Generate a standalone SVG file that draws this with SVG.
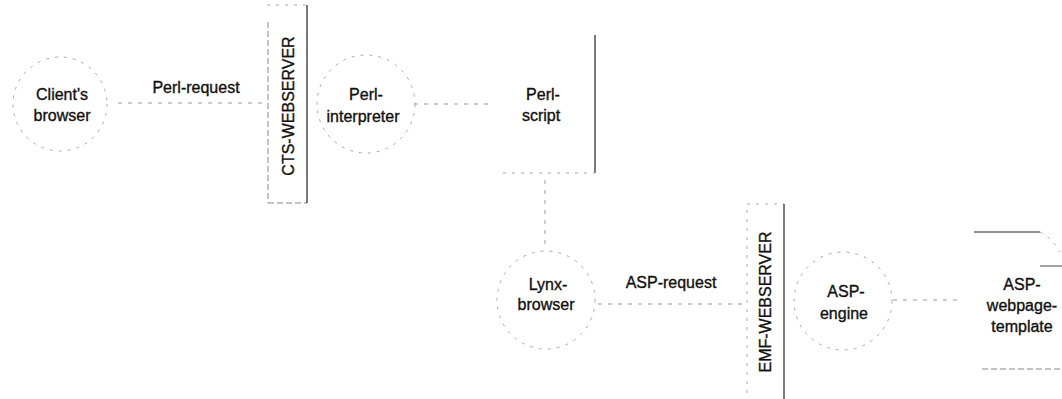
<svg xmlns="http://www.w3.org/2000/svg" width="1062" height="399" viewBox="0 0 1062 399">
  <style>
    .bg { fill: #ffffff; }
    .lbl { font-family: "Liberation Sans", Arial, sans-serif; font-size: 16px; fill: #111111; stroke: #111111; stroke-width: 0.35; text-anchor: middle; }
    .circ { fill: none; stroke: #aaaaaa; stroke-width: 1; stroke-dasharray: 3 6; }
    .conn { fill: none; stroke: #999999; stroke-width: 1; stroke-dasharray: 4 6; }
    .srv { fill: none; stroke: #888888; stroke-width: 1; stroke-dasharray: 6 3; }
    .solid { fill: none; stroke: #222222; stroke-width: 1.2; }
    .faint { fill: none; stroke: #aaaaaa; stroke-width: 1; stroke-dasharray: 3 6; }
  </style>
  <rect class="bg" x="0" y="0" width="1062" height="399"/>

  <g id="connectors">
    <line class="conn" x1="118" y1="103" x2="262" y2="103"/>
    <line class="conn" x1="414" y1="104" x2="490" y2="104"/>
    <line class="conn" x1="545" y1="180" x2="545" y2="250"/>
    <line class="conn" x1="598" y1="304" x2="744" y2="304"/>
    <line class="conn" x1="893" y1="300" x2="958" y2="300"/>
  </g>
  <text class="lbl" x="196" y="93">Perl-request</text>
  <text class="lbl" x="671" y="288">ASP-request</text>

  <g id="client-browser">
    <circle class="circ" cx="60" cy="104" r="47"/>
    <text class="lbl" x="62" y="100">Client's</text>
    <text class="lbl" x="62" y="121">browser</text>
  </g>

  <g id="cts-webserver">
    <line class="faint" x1="267" y1="5" x2="307" y2="5"/>
    <line class="srv" x1="268" y1="22" x2="268" y2="203"/>
    <line class="srv" x1="268" y1="203" x2="307" y2="203"/>
    <line class="solid" x1="307" y1="5" x2="307" y2="203"/>
    <text class="lbl" transform="translate(294,106) rotate(-90)">CTS-WEBSERVER</text>
  </g>

  <g id="perl-interpreter">
    <circle class="circ" cx="366" cy="104" r="49"/>
    <text class="lbl" x="366" y="100">Perl-</text>
    <text class="lbl" x="363" y="122">interpreter</text>
  </g>

  <g id="perl-script">
    <line class="solid" x1="595" y1="35" x2="595" y2="173"/>
    <line class="faint" x1="503" y1="173" x2="595" y2="173"/>
    <text class="lbl" x="543" y="100">Perl-</text>
    <text class="lbl" x="541" y="121">script</text>
  </g>

  <g id="lynx-browser">
    <circle class="circ" cx="546" cy="300" r="49"/>
    <text class="lbl" x="548" y="290">Lynx-</text>
    <text class="lbl" x="546" y="310">browser</text>
  </g>

  <g id="emf-webserver">
    <line class="faint" x1="747" y1="204" x2="784" y2="204"/>
    <line class="faint" x1="747" y1="210" x2="747" y2="399"/>
    <line class="solid" x1="784" y1="204" x2="784" y2="399"/>
    <text class="lbl" transform="translate(771,302) rotate(-90)">EMF-WEBSERVER</text>
  </g>

  <g id="asp-engine">
    <circle class="circ" cx="843" cy="301" r="49"/>
    <text class="lbl" x="846" y="297">ASP-</text>
    <text class="lbl" x="844" y="319">engine</text>
  </g>

  <g id="asp-webpage-template">
    <path class="solid" d="M974,232 H1040"/>
    <path class="faint" d="M1040,232 Q1052,238 1060,252"/>
    <path class="solid" d="M1040,266 H1062" style="stroke:#666"/>
    <path class="srv" d="M982,369 H1062"/>
    <text class="lbl" x="1022" y="290">ASP-</text>
    <text class="lbl" x="1022" y="311">webpage-</text>
    <text class="lbl" x="1022" y="332">template</text>
  </g>
</svg>
